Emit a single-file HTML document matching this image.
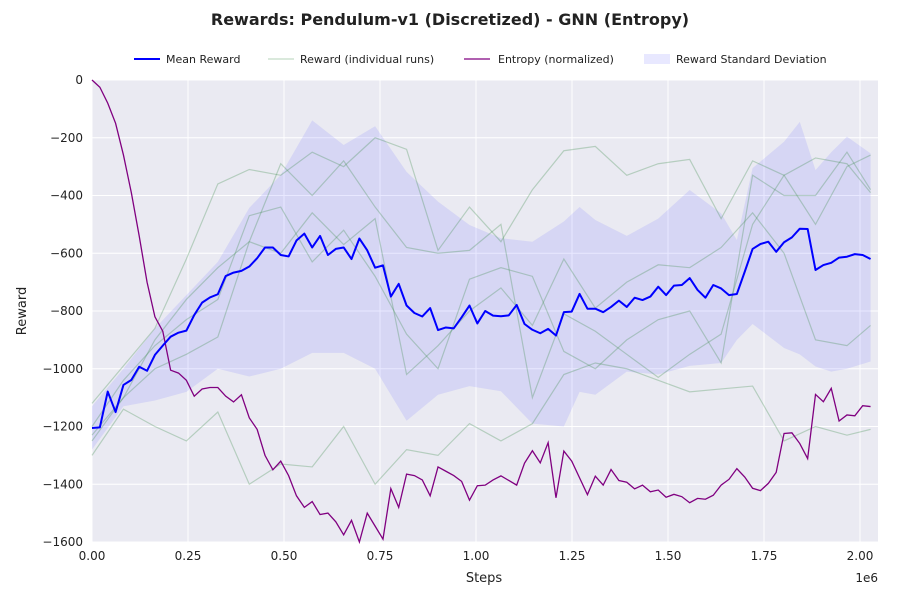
<!DOCTYPE html>
<html><head><meta charset="utf-8"><style>
body{margin:0;background:#fff;font-family:"Liberation Sans","DejaVu Sans",sans-serif}
svg text{font-family:"DejaVu Sans","Liberation Sans",sans-serif}
</style></head><body>
<svg id="chart" width="900" height="600" xmlns="http://www.w3.org/2000/svg">
<text x="450" y="25" text-anchor="middle" font-size="16" font-weight="bold" fill="#222">Rewards: Pendulum-v1 (Discretized) - GNN (Entropy)</text>
<g id="legend" font-size="11" fill="#222">
<g><line x1="134" y1="59" x2="160" y2="59" stroke="#0000ff" stroke-width="2"/><text x="166" y="63">Mean Reward</text></g>
<g><line x1="268" y1="59" x2="294" y2="59" stroke="#3a8a4a" stroke-opacity="0.3" stroke-width="1.2"/><text x="300" y="63">Reward (individual runs)</text></g>
<g><line x1="464" y1="59" x2="490" y2="59" stroke="#800080" stroke-width="1.2"/><text x="498" y="63">Entropy (normalized)</text></g>
<g><rect x="644" y="54" width="26" height="10" fill="#6464ff" fill-opacity="0.15"/><text x="676" y="63">Reward Standard Deviation</text></g>
</g>
<rect x="92" y="80" width="786" height="462" fill="#eaeaf2"/>
<g id="grid"></g><g id="marks"></g><g id="axes"></g>
<text x="484" y="582" text-anchor="middle" font-size="13" fill="#222">Steps</text>
<text x="0" y="0" transform="translate(26,311) rotate(-90)" text-anchor="middle" font-size="13" fill="#222">Reward</text>
<text x="878" y="582" text-anchor="end" font-size="12" fill="#222">1e6</text>
</svg>
<script>
const stepSize = 20480;
const meanReward = [-1205,-1203,-1079,-1150,-1056,-1039,-993,-1007,-952,-920,-889,-875,-868,-814,-771,-753,-742,-679,-667,-661,-646,-617,-580,-580,-606,-611,-556,-532,-580,-540,-606,-585,-580,-620,-549,-590,-650,-642,-750,-706,-781,-807,-819,-790,-866,-857,-860,-822,-781,-843,-800,
-816,-818,-815,-779,-845,-865,-877,-862,-885,-804,-802,-741,-792,-792,-804,-786,-764,-786,-754,-762,-750,-716,-745,-712,-710,-686,-727,-754,-710,-722,-745,-741,-664,-585,-568,-560,-595,-562,-545,-515,-516,-658,-641,-633,-615,-612,-603,-606,-620];
const entropy = [0,-25,-80,-150,-260,-390,-540,-700,-820,-870,-1005,-1015,-1040,-1095,-1070,-1065,-1065,-1095,-1115,-1090,-1170,-1210,-1300,-1350,-1320,-1370,-1440,-1480,-1460,-1505,-1500,-1530,-1575,-1525,-1600,-1500,-1545,-1590,-1415,-1480,-1365,-1370,-1385,-1440,-1340,-1355,-1370,-1390,-1455,-1405,-1403,
-1385,-1371,-1387,-1403,-1327,-1284,-1326,-1256,-1447,-1285,-1320,-1378,-1436,-1372,-1403,-1349,-1387,-1393,-1416,-1403,-1426,-1420,-1445,-1435,-1443,-1464,-1449,-1452,-1438,-1403,-1383,-1346,-1375,-1414,-1422,-1397,-1359,-1224,-1222,-1259,-1311,-1089,-1114,-1068,-1181,-1160,-1163,-1128,-1131];
const bandIdx = [0,4,8,12,16,20,24,28,32,36,40,44,48,52,56,60,62,64,68,72,76,80,82,84,88,90,92,94,96,99];
const bandUpper = [-1130,-1000,-860,-745,-630,-443,-329,-140,-225,-160,-318,-421,-502,-548,-560,-490,-440,-485,-540,-480,-381,-462,-554,-305,-214,-145,-312,-250,-196,-254];
const bandLower = [-1280,-1130,-1110,-1080,-1000,-1027,-1000,-945,-945,-1000,-1180,-1090,-1060,-1078,-1190,-1200,-1080,-1090,-1010,-1020,-990,-980,-900,-845,-928,-950,-992,-1010,-1000,-975];
const runIdx = [0,4,8,12,16,20,24,28,32,36,40,44,48,52,56,60,64,68,72,76,80,84,88,92,96,99];
const run1 = [-1120,-990,-860,-620,-360,-310,-330,-250,-300,-200,-240,-590,-440,-560,-380,-245,-230,-330,-290,-275,-480,-280,-330,-270,-290,-390];
const run2 = [-1300,-1140,-1200,-1250,-1150,-1400,-1330,-1340,-1200,-1400,-1280,-1300,-1190,-1250,-1190,-1020,-980,-1000,-1040,-1080,-1070,-1060,-1250,-1200,-1230,-1210];
const run3 = [-1250,-1100,-900,-760,-650,-560,-290,-400,-280,-440,-580,-600,-590,-500,-1100,-810,-870,-950,-1030,-950,-880,-500,-330,-500,-300,-260];
const run4 = [-1200,-1040,-920,-830,-760,-470,-440,-630,-520,-680,-880,-1000,-690,-650,-680,-940,-1000,-900,-830,-800,-980,-330,-400,-400,-250,-380];
const run5 = [-1230,-1100,-1000,-950,-890,-560,-600,-460,-570,-480,-1020,-920,-800,-720,-850,-620,-790,-700,-640,-650,-580,-460,-600,-900,-920,-850];
const xTicks = [0,0.25,0.5,0.75,1.0,1.25,1.5,1.75,2.0];
const xTickLabels = ["0.00","0.25","0.50","0.75","1.00","1.25","1.50","1.75","2.00"];
const yTicks = [0,-200,-400,-600,-800,-1000,-1200,-1400,-1600];
const yTickLabels = ["0","\u2212200","\u2212400","\u2212600","\u2212800","\u22121000","\u22121200","\u22121400","\u22121600"];

const NS = "http://www.w3.org/2000/svg";
const X0=92, X1=878, Y0=80, Y1=542, XMAX=2.0469e6, YMIN=-1600;
function xs(v){return X0+(v/XMAX)*(X1-X0);}
function ys(v){return Y0+(v/YMIN)*(Y1-Y0);}
function idxX(i){return xs(i*stepSize);}
function mk(tag,attrs,parent){const e=document.createElementNS(NS,tag);for(const k in attrs)e.setAttribute(k,attrs[k]);parent.appendChild(e);return e;}
const grid=document.getElementById('grid'), marks=document.getElementById('marks'), axes=document.getElementById('axes');
xTicks.forEach((t,k)=>{const x=xs(t*1e6);
 const l=mk('line',{x1:x,x2:x,y1:Y0,y2:Y1,stroke:'#fff','stroke-width':1},grid);
 
 
 const tx=mk('text',{x:x,y:560,'text-anchor':'middle','font-size':12,fill:'#222'},axes);tx.textContent=xTickLabels[k];
 
 
});
yTicks.forEach((t,k)=>{const y=ys(t);
 const l=mk('line',{x1:X0,x2:X1,y1:y,y2:y,stroke:'#fff','stroke-width':1},grid);
 
 
 const tx=mk('text',{x:83,y:y+4,'text-anchor':'end','font-size':12,fill:'#222'},axes);tx.textContent=yTickLabels[k];
 
 
});
let d='';bandIdx.forEach((i,k)=>{d+=(k?'L':'M')+idxX(i)+','+ys(bandUpper[k]);});
for(let k=bandIdx.length-1;k>=0;k--){d+='L'+idxX(bandIdx[k])+','+ys(bandLower[k]);}
const band=mk('path',{d:d+'Z',fill:'#6464ff','fill-opacity':0.15},marks);


[run1,run2,run3,run4,run5].forEach((r,n)=>{
 const p=mk('polyline',{points:r.map((v,k)=>idxX(runIdx[k])+','+ys(v)).join(' '),fill:'none',stroke:'#3a8a4a','stroke-opacity':0.3,'stroke-width':1.2},marks);
 
 
});
const ent=mk('polyline',{points:entropy.map((v,i)=>idxX(i)+','+ys(v)).join(' '),fill:'none',stroke:'#800080','stroke-width':1.3},marks);


const mean=mk('polyline',{points:meanReward.map((v,i)=>idxX(i)+','+ys(v)).join(' '),fill:'none',stroke:'#0000ff','stroke-width':2,'stroke-linejoin':'round'},marks);


</script>
</body></html>
